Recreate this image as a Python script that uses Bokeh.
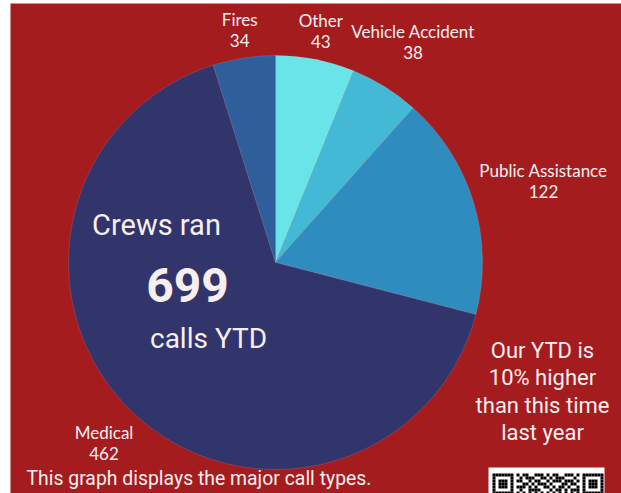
import math
from bokeh.plotting import figure
from bokeh.models import Range1d, ColumnDataSource
from bokeh.core.properties import value
from bokeh.embed import file_html
from bokeh.resources import INLINE

# ---- data ----
categories = ["Other", "Vehicle Accident", "Public Assistance", "Medical", "Fires"]
counts = [43, 38, 122, 462, 34]
colors = ["#69E4E8", "#44B9D6", "#2E8CBE", "#32346C", "#2E5F9A"]
total_calls = 699

# ---- style / layout ----
BG = "#A51C1F"
TXT = "#F7EFEF"
W, H = 621, 493
LEFT, TOP = 10, 3
CX, CY, R = 275, 231, 207
label_dist = [236, 260, 280, 249, 235]

p = figure(width=W, height=H, output_backend="svg", toolbar_location=None,
           x_range=Range1d(LEFT, W), y_range=Range1d(0, H - TOP),
           min_border=0, min_border_left=LEFT, min_border_top=TOP,
           min_border_right=0, min_border_bottom=0)
p.axis.visible = False
p.grid.visible = False
p.outline_line_color = None
p.background_fill_color = BG
p.border_fill_color = "white"

tot = sum(counts)
starts, ends, mids = [], [], []
cum = 0
for c in counts:
    a0 = math.pi / 2 - cum / tot * 2 * math.pi
    cum += c
    a1 = math.pi / 2 - cum / tot * 2 * math.pi
    starts.append(a0)
    ends.append(a1)
    mids.append((a0 + a1) / 2)

src = ColumnDataSource(dict(x=[CX] * len(counts), y=[CY] * len(counts),
                            start=starts, end=ends, color=colors))
p.wedge(x="x", y="y", radius=R, start_angle="start", end_angle="end",
        direction="clock", fill_color="color", line_color="#FFFFFF",
        line_alpha=0.2, line_width=0.6, source=src)

lx = [CX + d * math.cos(m) for d, m in zip(label_dist, mids)]
ly = [CY + d * math.sin(m) for d, m in zip(label_dist, mids)]
p.text(x=lx, y=[y + 10.5 for y in ly], text=categories, text_align="center",
       text_baseline="middle", text_color=TXT, text_font=value("Lato"),
       text_font_size="17px")
p.text(x=lx, y=[y - 10.5 for y in ly], text=[str(c) for c in counts],
       text_align="center", text_baseline="middle", text_color=TXT,
       text_font=value("Lato"), text_font_size="17px")

# centre annotation
p.text(x=[156], y=[269], text=["Crews ran"], text_align="center",
       text_baseline="middle", text_color=TXT, text_font=value("Roboto"),
       text_font_size="29px")
p.text(x=[187], y=[209], text=[str(total_calls)], text_align="center",
       text_baseline="middle", text_color=TXT, text_font=value("Roboto"),
       text_font_size="48px", text_font_style="bold")
p.text(x=[208], y=[155], text=["calls YTD"], text_align="center",
       text_baseline="middle", text_color=TXT, text_font=value("Roboto"),
       text_font_size="28px")

right_lines = ["Our YTD is", "10% higher", "than this time", "last year"]
p.text(x=[542] * 4, y=[143, 116, 88, 61], text=right_lines, text_align="center",
       text_baseline="middle", text_color=TXT, text_font=value("Roboto"),
       text_font_size="22px")

p.text(x=[26], y=[15], text=["This graph displays the major call types."],
       text_align="left", text_baseline="middle", text_color=TXT,
       text_font=value("Roboto"), text_font_size="19.4px")

# QR code (decorative)
p.quad(left=[488], right=[604], bottom=[-2], top=[26], fill_color="white",
       line_color=None)
finder = ["1111111", "1000001", "1011101", "1011101", "1011101", "1000001", "1111111"]
middle = ["101100111010110011101",
          "010111001101011100010",
          "110010110010111011101",
          "001101011101000110110",
          "111010100110101101001",
          "010011110001011010111",
          "101010101010101010101"]
ql, qr, qb, qt = [], [], [], []
for r in range(7):
    row = finder[r] + "0" + middle[r] + "0" + finder[r]
    for c, ch in enumerate(row):
        if ch == "1":
            ql.append(492 + c * 3)
            qr.append(492 + c * 3 + 3)
            qt.append(20 - r * 3)
            qb.append(20 - r * 3 - 3)
p.quad(left=ql, right=qr, bottom=qb, top=qt, fill_color="black", line_color=None)

open("out.html", "w").write(file_html(p, INLINE))
